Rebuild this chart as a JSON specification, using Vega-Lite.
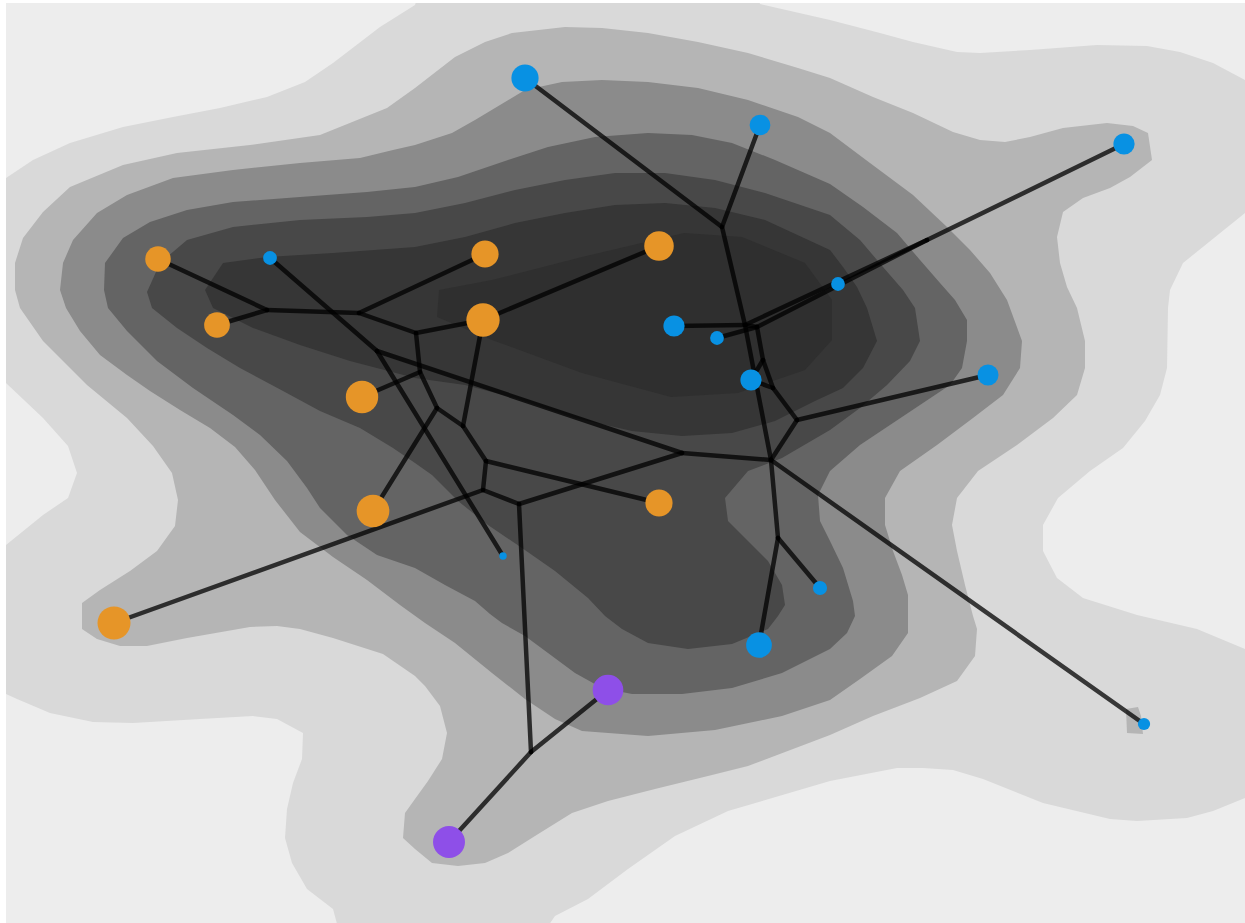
{
"$schema": "https://vega.github.io/schema/vega-lite/v6.json",
"width": 1239, "height": 920,
"autosize": {"type": "none"},
"padding": {"left": 6, "top": 3, "right": 0, "bottom": 0},
"background": "white",
"config": {"view": {"fill": "#ededed", "stroke": null}},
"datasets": {
"nodes": [
{"id":"O1","x":158,"y":259,"group":"I","n":65},
{"id":"O2","x":217,"y":325,"group":"I","n":66},
{"id":"O3","x":485,"y":254,"group":"I","n":74},
{"id":"O4","x":659,"y":246,"group":"I","n":87},
{"id":"O5","x":483,"y":320,"group":"I","n":111},
{"id":"O6","x":362,"y":397,"group":"I","n":105},
{"id":"O7","x":373,"y":511,"group":"I","n":107},
{"id":"O8","x":659,"y":503,"group":"I","n":74},
{"id":"O9","x":114,"y":623,"group":"I","n":109},
{"id":"B1","x":525,"y":78,"group":"II","n":74},
{"id":"B2","x":760,"y":125,"group":"II","n":43},
{"id":"B3","x":1124,"y":144,"group":"II","n":45},
{"id":"B4","x":270,"y":258,"group":"II","n":19},
{"id":"B5","x":838,"y":284,"group":"II","n":19},
{"id":"B6","x":674,"y":326,"group":"II","n":45},
{"id":"B7","x":717,"y":338,"group":"II","n":19},
{"id":"B8","x":751,"y":380,"group":"II","n":45},
{"id":"B9","x":988,"y":375,"group":"II","n":44},
{"id":"B10","x":503,"y":556,"group":"II","n":5.5},
{"id":"B11","x":820,"y":588,"group":"II","n":20},
{"id":"B12","x":759,"y":645,"group":"II","n":66},
{"id":"B13","x":1144,"y":724,"group":"II","n":15},
{"id":"P1","x":608,"y":690,"group":"III","n":94},
{"id":"P2","x":449,"y":842,"group":"III","n":102},
{"id":"N1","x":267,"y":310},
{"id":"N2","x":359,"y":313},
{"id":"N3","x":416,"y":333},
{"id":"N4","x":420,"y":372},
{"id":"N5","x":437,"y":408},
{"id":"N6","x":463,"y":426},
{"id":"N7","x":486,"y":461},
{"id":"N8","x":483,"y":490},
{"id":"N9","x":519,"y":504},
{"id":"N10","x":531,"y":752},
{"id":"Na","x":377,"y":351},
{"id":"N11","x":682,"y":453},
{"id":"N12","x":771,"y":460},
{"id":"N13","x":778,"y":538},
{"id":"N14","x":797,"y":420},
{"id":"N19","x":773,"y":388},
{"id":"N18","x":763,"y":360},
{"id":"N16","x":757,"y":327},
{"id":"N15","x":745,"y":325},
{"id":"N17","x":927,"y":240},
{"id":"Ntop","x":722,"y":227}
],
"edges": [
{"s":"O1","t":"N1"},{"s":"O2","t":"N1"},{"s":"N1","t":"N2"},{"s":"N2","t":"O3"},{"s":"N2","t":"N3"},
{"s":"N3","t":"O5"},{"s":"O5","t":"O4"},{"s":"N3","t":"N4"},{"s":"N4","t":"O6"},{"s":"N4","t":"N5"},
{"s":"N5","t":"O7"},{"s":"N5","t":"N6"},{"s":"N6","t":"O5"},{"s":"N6","t":"N7"},{"s":"N7","t":"O8"},
{"s":"N7","t":"N8"},{"s":"N8","t":"O9"},{"s":"N8","t":"N9"},{"s":"N9","t":"N11"},{"s":"N9","t":"N10"},
{"s":"N10","t":"P1"},{"s":"N10","t":"P2"},{"s":"B4","t":"Na"},{"s":"Na","t":"B10"},{"s":"Na","t":"N11"},
{"s":"N11","t":"N12"},{"s":"N12","t":"N13"},{"s":"N13","t":"B11"},{"s":"N13","t":"B12"},{"s":"N12","t":"B13"},
{"s":"N12","t":"N14"},{"s":"N14","t":"B9"},{"s":"N14","t":"N19"},{"s":"N19","t":"B8"},{"s":"N19","t":"N18"},
{"s":"N18","t":"B8"},{"s":"N18","t":"N16"},{"s":"N16","t":"N15"},{"s":"N15","t":"B6"},{"s":"N16","t":"B7"},
{"s":"N15","t":"N17"},{"s":"N16","t":"N17"},{"s":"N17","t":"B3"},{"s":"N15","t":"N12"},{"s":"N15","t":"Ntop"},
{"s":"Ntop","t":"B1"},{"s":"Ntop","t":"B2"}
],
"density": [
{"level":1,"pid":"a","x":-10,"y":178},{"level":1,"pid":"a","x":6,"y":178},{"level":1,"pid":"a","x":33,"y":160},{"level":1,"pid":"a","x":70,"y":143},{"level":1,"pid":"a","x":123,"y":127},{"level":1,"pid":"a","x":173,"y":117},{"level":1,"pid":"a","x":220,"y":108},{"level":1,"pid":"a","x":267,"y":97},{"level":1,"pid":"a","x":305,"y":82},{"level":1,"pid":"a","x":333,"y":63},{"level":1,"pid":"a","x":380,"y":27},{"level":1,"pid":"a","x":415,"y":5},{"level":1,"pid":"a","x":420,"y":-10},{"level":1,"pid":"a","x":755,"y":-10},{"level":1,"pid":"a","x":760,"y":4},{"level":1,"pid":"a","x":830,"y":20},{"level":1,"pid":"a","x":880,"y":33},{"level":1,"pid":"a","x":913,"y":42},{"level":1,"pid":"a","x":957,"y":52},{"level":1,"pid":"a","x":980,"y":53},{"level":1,"pid":"a","x":1030,"y":50},{"level":1,"pid":"a","x":1097,"y":45},{"level":1,"pid":"a","x":1147,"y":46},{"level":1,"pid":"a","x":1180,"y":52},{"level":1,"pid":"a","x":1213,"y":63},{"level":1,"pid":"a","x":1245,"y":80},{"level":1,"pid":"a","x":1260,"y":80},{"level":1,"pid":"a","x":1260,"y":213},{"level":1,"pid":"a","x":1245,"y":213},{"level":1,"pid":"a","x":1183,"y":263},{"level":1,"pid":"a","x":1170,"y":290},{"level":1,"pid":"a","x":1168,"y":308},{"level":1,"pid":"a","x":1167,"y":368},{"level":1,"pid":"a","x":1160,"y":395},{"level":1,"pid":"a","x":1145,"y":421},{"level":1,"pid":"a","x":1123,"y":448},{"level":1,"pid":"a","x":1090,"y":471},{"level":1,"pid":"a","x":1058,"y":498},{"level":1,"pid":"a","x":1043,"y":525},{"level":1,"pid":"a","x":1043,"y":551},{"level":1,"pid":"a","x":1057,"y":578},{"level":1,"pid":"a","x":1083,"y":598},{"level":1,"pid":"a","x":1137,"y":615},{"level":1,"pid":"a","x":1197,"y":629},{"level":1,"pid":"a","x":1245,"y":649},{"level":1,"pid":"a","x":1260,"y":649},{"level":1,"pid":"a","x":1260,"y":798},{"level":1,"pid":"a","x":1245,"y":798},{"level":1,"pid":"a","x":1213,"y":811},{"level":1,"pid":"a","x":1187,"y":818},{"level":1,"pid":"a","x":1137,"y":821},{"level":1,"pid":"a","x":1110,"y":819},{"level":1,"pid":"a","x":1043,"y":803},{"level":1,"pid":"a","x":983,"y":779},{"level":1,"pid":"a","x":953,"y":770},{"level":1,"pid":"a","x":923,"y":768},{"level":1,"pid":"a","x":897,"y":768},{"level":1,"pid":"a","x":830,"y":781},{"level":1,"pid":"a","x":728,"y":811},{"level":1,"pid":"a","x":675,"y":836},{"level":1,"pid":"a","x":628,"y":869},{"level":1,"pid":"a","x":588,"y":899},{"level":1,"pid":"a","x":555,"y":916},{"level":1,"pid":"a","x":542,"y":935},{"level":1,"pid":"a","x":340,"y":935},{"level":1,"pid":"a","x":333,"y":909},{"level":1,"pid":"a","x":307,"y":889},{"level":1,"pid":"a","x":292,"y":863},{"level":1,"pid":"a","x":285,"y":838},{"level":1,"pid":"a","x":287,"y":809},{"level":1,"pid":"a","x":293,"y":783},{"level":1,"pid":"a","x":302,"y":759},{"level":1,"pid":"a","x":303,"y":733},{"level":1,"pid":"a","x":277,"y":719},{"level":1,"pid":"a","x":253,"y":716},{"level":1,"pid":"a","x":200,"y":719},{"level":1,"pid":"a","x":133,"y":723},{"level":1,"pid":"a","x":93,"y":722},{"level":1,"pid":"a","x":50,"y":713},{"level":1,"pid":"a","x":17,"y":699},{"level":1,"pid":"a","x":6,"y":694},{"level":1,"pid":"a","x":-10,"y":694},{"level":1,"pid":"a","x":-10,"y":545},{"level":1,"pid":"a","x":6,"y":545},{"level":1,"pid":"a","x":43,"y":515},{"level":1,"pid":"a","x":68,"y":498},{"level":1,"pid":"a","x":77,"y":473},{"level":1,"pid":"a","x":68,"y":446},{"level":1,"pid":"a","x":43,"y":418},{"level":1,"pid":"a","x":6,"y":383},{"level":1,"pid":"a","x":-10,"y":383},
{"level":2,"pid":"b","x":15,"y":263},{"level":2,"pid":"b","x":23,"y":238},{"level":2,"pid":"b","x":43,"y":212},{"level":2,"pid":"b","x":70,"y":187},{"level":2,"pid":"b","x":123,"y":165},{"level":2,"pid":"b","x":177,"y":153},{"level":2,"pid":"b","x":250,"y":145},{"level":2,"pid":"b","x":320,"y":135},{"level":2,"pid":"b","x":387,"y":108},{"level":2,"pid":"b","x":415,"y":88},{"level":2,"pid":"b","x":455,"y":57},{"level":2,"pid":"b","x":485,"y":42},{"level":2,"pid":"b","x":512,"y":33},{"level":2,"pid":"b","x":565,"y":27},{"level":2,"pid":"b","x":602,"y":28},{"level":2,"pid":"b","x":648,"y":33},{"level":2,"pid":"b","x":698,"y":42},{"level":2,"pid":"b","x":748,"y":53},{"level":2,"pid":"b","x":798,"y":68},{"level":2,"pid":"b","x":830,"y":78},{"level":2,"pid":"b","x":873,"y":97},{"level":2,"pid":"b","x":913,"y":113},{"level":2,"pid":"b","x":953,"y":132},{"level":2,"pid":"b","x":980,"y":140},{"level":2,"pid":"b","x":1005,"y":142},{"level":2,"pid":"b","x":1030,"y":137},{"level":2,"pid":"b","x":1063,"y":128},{"level":2,"pid":"b","x":1107,"y":123},{"level":2,"pid":"b","x":1133,"y":126},{"level":2,"pid":"b","x":1148,"y":133},{"level":2,"pid":"b","x":1152,"y":160},{"level":2,"pid":"b","x":1130,"y":177},{"level":2,"pid":"b","x":1110,"y":188},{"level":2,"pid":"b","x":1083,"y":198},{"level":2,"pid":"b","x":1063,"y":212},{"level":2,"pid":"b","x":1057,"y":237},{"level":2,"pid":"b","x":1060,"y":263},{"level":2,"pid":"b","x":1067,"y":287},{"level":2,"pid":"b","x":1077,"y":308},{"level":2,"pid":"b","x":1085,"y":341},{"level":2,"pid":"b","x":1085,"y":368},{"level":2,"pid":"b","x":1077,"y":395},{"level":2,"pid":"b","x":1053,"y":418},{"level":2,"pid":"b","x":1017,"y":445},{"level":2,"pid":"b","x":978,"y":471},{"level":2,"pid":"b","x":957,"y":498},{"level":2,"pid":"b","x":952,"y":525},{"level":2,"pid":"b","x":957,"y":551},{"level":2,"pid":"b","x":965,"y":585},{"level":2,"pid":"b","x":973,"y":616},{"level":2,"pid":"b","x":977,"y":629},{"level":2,"pid":"b","x":975,"y":656},{"level":2,"pid":"b","x":957,"y":681},{"level":2,"pid":"b","x":920,"y":698},{"level":2,"pid":"b","x":873,"y":716},{"level":2,"pid":"b","x":830,"y":735},{"level":2,"pid":"b","x":748,"y":766},{"level":2,"pid":"b","x":708,"y":776},{"level":2,"pid":"b","x":655,"y":789},{"level":2,"pid":"b","x":608,"y":801},{"level":2,"pid":"b","x":572,"y":813},{"level":2,"pid":"b","x":535,"y":836},{"level":2,"pid":"b","x":508,"y":853},{"level":2,"pid":"b","x":485,"y":863},{"level":2,"pid":"b","x":458,"y":866},{"level":2,"pid":"b","x":432,"y":863},{"level":2,"pid":"b","x":415,"y":849},{"level":2,"pid":"b","x":403,"y":838},{"level":2,"pid":"b","x":405,"y":813},{"level":2,"pid":"b","x":415,"y":799},{"level":2,"pid":"b","x":428,"y":781},{"level":2,"pid":"b","x":442,"y":759},{"level":2,"pid":"b","x":447,"y":733},{"level":2,"pid":"b","x":440,"y":706},{"level":2,"pid":"b","x":425,"y":686},{"level":2,"pid":"b","x":415,"y":676},{"level":2,"pid":"b","x":383,"y":654},{"level":2,"pid":"b","x":333,"y":638},{"level":2,"pid":"b","x":300,"y":629},{"level":2,"pid":"b","x":277,"y":626},{"level":2,"pid":"b","x":250,"y":627},{"level":2,"pid":"b","x":187,"y":638},{"level":2,"pid":"b","x":147,"y":646},{"level":2,"pid":"b","x":120,"y":646},{"level":2,"pid":"b","x":97,"y":639},{"level":2,"pid":"b","x":82,"y":629},{"level":2,"pid":"b","x":82,"y":603},{"level":2,"pid":"b","x":100,"y":590},{"level":2,"pid":"b","x":130,"y":571},{"level":2,"pid":"b","x":157,"y":551},{"level":2,"pid":"b","x":175,"y":526},{"level":2,"pid":"b","x":178,"y":500},{"level":2,"pid":"b","x":172,"y":473},{"level":2,"pid":"b","x":153,"y":446},{"level":2,"pid":"b","x":127,"y":418},{"level":2,"pid":"b","x":87,"y":385},{"level":2,"pid":"b","x":43,"y":341},{"level":2,"pid":"b","x":20,"y":308},{"level":2,"pid":"b","x":15,"y":290},
{"level":2,"pid":"c","x":1126,"y":709},{"level":2,"pid":"c","x":1138,"y":707},{"level":2,"pid":"c","x":1141,"y":716},{"level":2,"pid":"c","x":1143,"y":734},{"level":2,"pid":"c","x":1127,"y":733},
{"level":3,"pid":"d","x":60,"y":290},{"level":3,"pid":"d","x":63,"y":263},{"level":3,"pid":"d","x":73,"y":240},{"level":3,"pid":"d","x":97,"y":213},{"level":3,"pid":"d","x":127,"y":195},{"level":3,"pid":"d","x":173,"y":178},{"level":3,"pid":"d","x":233,"y":170},{"level":3,"pid":"d","x":300,"y":163},{"level":3,"pid":"d","x":360,"y":158},{"level":3,"pid":"d","x":393,"y":150},{"level":3,"pid":"d","x":415,"y":145},{"level":3,"pid":"d","x":452,"y":133},{"level":3,"pid":"d","x":475,"y":120},{"level":3,"pid":"d","x":505,"y":102},{"level":3,"pid":"d","x":525,"y":90},{"level":3,"pid":"d","x":562,"y":82},{"level":3,"pid":"d","x":602,"y":80},{"level":3,"pid":"d","x":648,"y":82},{"level":3,"pid":"d","x":698,"y":88},{"level":3,"pid":"d","x":748,"y":100},{"level":3,"pid":"d","x":798,"y":117},{"level":3,"pid":"d","x":830,"y":133},{"level":3,"pid":"d","x":870,"y":163},{"level":3,"pid":"d","x":913,"y":195},{"level":3,"pid":"d","x":947,"y":227},{"level":3,"pid":"d","x":970,"y":250},{"level":3,"pid":"d","x":990,"y":273},{"level":3,"pid":"d","x":1007,"y":300},{"level":3,"pid":"d","x":1022,"y":341},{"level":3,"pid":"d","x":1020,"y":368},{"level":3,"pid":"d","x":1003,"y":395},{"level":3,"pid":"d","x":973,"y":418},{"level":3,"pid":"d","x":937,"y":445},{"level":3,"pid":"d","x":900,"y":471},{"level":3,"pid":"d","x":885,"y":498},{"level":3,"pid":"d","x":885,"y":525},{"level":3,"pid":"d","x":893,"y":551},{"level":3,"pid":"d","x":902,"y":575},{"level":3,"pid":"d","x":908,"y":595},{"level":3,"pid":"d","x":908,"y":633},{"level":3,"pid":"d","x":892,"y":656},{"level":3,"pid":"d","x":860,"y":679},{"level":3,"pid":"d","x":830,"y":700},{"level":3,"pid":"d","x":782,"y":716},{"level":3,"pid":"d","x":715,"y":730},{"level":3,"pid":"d","x":648,"y":736},{"level":3,"pid":"d","x":582,"y":731},{"level":3,"pid":"d","x":555,"y":719},{"level":3,"pid":"d","x":525,"y":699},{"level":3,"pid":"d","x":492,"y":673},{"level":3,"pid":"d","x":455,"y":643},{"level":3,"pid":"d","x":425,"y":623},{"level":3,"pid":"d","x":400,"y":605},{"level":3,"pid":"d","x":367,"y":580},{"level":3,"pid":"d","x":333,"y":557},{"level":3,"pid":"d","x":300,"y":532},{"level":3,"pid":"d","x":275,"y":500},{"level":3,"pid":"d","x":255,"y":470},{"level":3,"pid":"d","x":235,"y":447},{"level":3,"pid":"d","x":210,"y":428},{"level":3,"pid":"d","x":180,"y":410},{"level":3,"pid":"d","x":150,"y":391},{"level":3,"pid":"d","x":127,"y":375},{"level":3,"pid":"d","x":100,"y":355},{"level":3,"pid":"d","x":80,"y":331},{"level":3,"pid":"d","x":66,"y":308},
{"level":4,"pid":"e","x":104,"y":290},{"level":4,"pid":"e","x":105,"y":263},{"level":4,"pid":"e","x":123,"y":238},{"level":4,"pid":"e","x":150,"y":222},{"level":4,"pid":"e","x":187,"y":210},{"level":4,"pid":"e","x":233,"y":202},{"level":4,"pid":"e","x":300,"y":197},{"level":4,"pid":"e","x":367,"y":192},{"level":4,"pid":"e","x":415,"y":187},{"level":4,"pid":"e","x":458,"y":177},{"level":4,"pid":"e","x":508,"y":160},{"level":4,"pid":"e","x":548,"y":147},{"level":4,"pid":"e","x":595,"y":137},{"level":4,"pid":"e","x":648,"y":133},{"level":4,"pid":"e","x":692,"y":135},{"level":4,"pid":"e","x":732,"y":143},{"level":4,"pid":"e","x":775,"y":160},{"level":4,"pid":"e","x":830,"y":184},{"level":4,"pid":"e","x":863,"y":207},{"level":4,"pid":"e","x":897,"y":233},{"level":4,"pid":"e","x":920,"y":260},{"level":4,"pid":"e","x":940,"y":283},{"level":4,"pid":"e","x":955,"y":300},{"level":4,"pid":"e","x":967,"y":320},{"level":4,"pid":"e","x":967,"y":341},{"level":4,"pid":"e","x":962,"y":368},{"level":4,"pid":"e","x":950,"y":385},{"level":4,"pid":"e","x":920,"y":405},{"level":4,"pid":"e","x":890,"y":425},{"level":4,"pid":"e","x":860,"y":445},{"level":4,"pid":"e","x":830,"y":471},{"level":4,"pid":"e","x":818,"y":495},{"level":4,"pid":"e","x":820,"y":521},{"level":4,"pid":"e","x":830,"y":541},{"level":4,"pid":"e","x":843,"y":568},{"level":4,"pid":"e","x":853,"y":601},{"level":4,"pid":"e","x":855,"y":616},{"level":4,"pid":"e","x":847,"y":633},{"level":4,"pid":"e","x":830,"y":649},{"level":4,"pid":"e","x":782,"y":673},{"level":4,"pid":"e","x":732,"y":688},{"level":4,"pid":"e","x":682,"y":694},{"level":4,"pid":"e","x":632,"y":694},{"level":4,"pid":"e","x":602,"y":688},{"level":4,"pid":"e","x":575,"y":673},{"level":4,"pid":"e","x":548,"y":653},{"level":4,"pid":"e","x":525,"y":636},{"level":4,"pid":"e","x":502,"y":623},{"level":4,"pid":"e","x":490,"y":614},{"level":4,"pid":"e","x":475,"y":601},{"level":4,"pid":"e","x":445,"y":585},{"level":4,"pid":"e","x":415,"y":568},{"level":4,"pid":"e","x":377,"y":555},{"level":4,"pid":"e","x":347,"y":535},{"level":4,"pid":"e","x":320,"y":508},{"level":4,"pid":"e","x":307,"y":488},{"level":4,"pid":"e","x":287,"y":461},{"level":4,"pid":"e","x":260,"y":435},{"level":4,"pid":"e","x":233,"y":415},{"level":4,"pid":"e","x":193,"y":388},{"level":4,"pid":"e","x":157,"y":361},{"level":4,"pid":"e","x":127,"y":331},{"level":4,"pid":"e","x":108,"y":308},
{"level":5,"pid":"f","x":147,"y":292},{"level":5,"pid":"f","x":160,"y":263},{"level":5,"pid":"f","x":187,"y":240},{"level":5,"pid":"f","x":233,"y":227},{"level":5,"pid":"f","x":300,"y":220},{"level":5,"pid":"f","x":367,"y":217},{"level":5,"pid":"f","x":415,"y":213},{"level":5,"pid":"f","x":465,"y":203},{"level":5,"pid":"f","x":515,"y":190},{"level":5,"pid":"f","x":565,"y":180},{"level":5,"pid":"f","x":615,"y":173},{"level":5,"pid":"f","x":665,"y":173},{"level":5,"pid":"f","x":715,"y":180},{"level":5,"pid":"f","x":765,"y":193},{"level":5,"pid":"f","x":830,"y":215},{"level":5,"pid":"f","x":860,"y":240},{"level":5,"pid":"f","x":883,"y":267},{"level":5,"pid":"f","x":903,"y":290},{"level":5,"pid":"f","x":915,"y":308},{"level":5,"pid":"f","x":920,"y":341},{"level":5,"pid":"f","x":910,"y":361},{"level":5,"pid":"f","x":887,"y":385},{"level":5,"pid":"f","x":860,"y":408},{"level":5,"pid":"f","x":830,"y":430},{"level":5,"pid":"f","x":782,"y":458},{"level":5,"pid":"f","x":748,"y":471},{"level":5,"pid":"f","x":725,"y":498},{"level":5,"pid":"f","x":728,"y":521},{"level":5,"pid":"f","x":748,"y":541},{"level":5,"pid":"f","x":768,"y":561},{"level":5,"pid":"f","x":782,"y":585},{"level":5,"pid":"f","x":785,"y":605},{"level":5,"pid":"f","x":778,"y":616},{"level":5,"pid":"f","x":768,"y":629},{"level":5,"pid":"f","x":732,"y":644},{"level":5,"pid":"f","x":688,"y":649},{"level":5,"pid":"f","x":648,"y":643},{"level":5,"pid":"f","x":622,"y":629},{"level":5,"pid":"f","x":605,"y":616},{"level":5,"pid":"f","x":588,"y":598},{"level":5,"pid":"f","x":555,"y":571},{"level":5,"pid":"f","x":522,"y":548},{"level":5,"pid":"f","x":488,"y":525},{"level":5,"pid":"f","x":458,"y":501},{"level":5,"pid":"f","x":432,"y":475},{"level":5,"pid":"f","x":415,"y":463},{"level":5,"pid":"f","x":393,"y":448},{"level":5,"pid":"f","x":360,"y":428},{"level":5,"pid":"f","x":320,"y":411},{"level":5,"pid":"f","x":283,"y":391},{"level":5,"pid":"f","x":240,"y":368},{"level":5,"pid":"f","x":207,"y":348},{"level":5,"pid":"f","x":177,"y":328},{"level":5,"pid":"f","x":152,"y":308},
{"level":6,"pid":"g","x":205,"y":290},{"level":6,"pid":"g","x":223,"y":263},{"level":6,"pid":"g","x":267,"y":257},{"level":6,"pid":"g","x":333,"y":253},{"level":6,"pid":"g","x":415,"y":247},{"level":6,"pid":"g","x":465,"y":237},{"level":6,"pid":"g","x":515,"y":223},{"level":6,"pid":"g","x":565,"y":213},{"level":6,"pid":"g","x":615,"y":205},{"level":6,"pid":"g","x":665,"y":203},{"level":6,"pid":"g","x":715,"y":208},{"level":6,"pid":"g","x":765,"y":220},{"level":6,"pid":"g","x":830,"y":250},{"level":6,"pid":"g","x":843,"y":267},{"level":6,"pid":"g","x":857,"y":287},{"level":6,"pid":"g","x":867,"y":308},{"level":6,"pid":"g","x":877,"y":341},{"level":6,"pid":"g","x":863,"y":368},{"level":6,"pid":"g","x":843,"y":388},{"level":6,"pid":"g","x":815,"y":401},{"level":6,"pid":"g","x":775,"y":421},{"level":6,"pid":"g","x":732,"y":433},{"level":6,"pid":"g","x":682,"y":436},{"level":6,"pid":"g","x":632,"y":431},{"level":6,"pid":"g","x":575,"y":418},{"level":6,"pid":"g","x":515,"y":398},{"level":6,"pid":"g","x":465,"y":385},{"level":6,"pid":"g","x":415,"y":378},{"level":6,"pid":"g","x":350,"y":361},{"level":6,"pid":"g","x":300,"y":345},{"level":6,"pid":"g","x":253,"y":328},{"level":6,"pid":"g","x":213,"y":308},
{"level":7,"pid":"h","x":437,"y":317},{"level":7,"pid":"h","x":439,"y":290},{"level":7,"pid":"h","x":492,"y":280},{"level":7,"pid":"h","x":582,"y":257},{"level":7,"pid":"h","x":684,"y":233},{"level":7,"pid":"h","x":742,"y":237},{"level":7,"pid":"h","x":805,"y":263},{"level":7,"pid":"h","x":832,"y":300},{"level":7,"pid":"h","x":832,"y":340},{"level":7,"pid":"h","x":805,"y":370},{"level":7,"pid":"h","x":738,"y":393},{"level":7,"pid":"h","x":671,"y":397},{"level":7,"pid":"h","x":582,"y":373},{"level":7,"pid":"h","x":492,"y":340}
]
},
"layer": [
{
"data": {"name": "density"},
"mark": {"type": "line", "filled": true, "clip": true, "strokeWidth": 0},
"encoding": {
"x": {"field": "x", "type": "quantitative", "scale": {"domain": [6, 1245], "nice": false, "zero": false}, "axis": null},
"y": {"field": "y", "type": "quantitative", "scale": {"domain": [3, 923], "nice": false, "zero": false, "reverse": true}, "axis": null},
"color": {"field": "level", "type": "ordinal", "scale": {"domain": [1, 2, 3, 4, 5, 6, 7], "range": ["#d9d9d9", "#b5b5b5", "#8b8b8b", "#646464", "#484848", "#363636", "#2f2f2f"]}, "legend": null},
"detail": {"field": "pid"},
"order": {"value": null}
}
},
{
"data": {"name": "edges"},
"transform": [
{"lookup": "s", "from": {"data": {"name": "nodes"}, "key": "id", "fields": ["x", "y"]}, "as": ["sx", "sy"]},
{"lookup": "t", "from": {"data": {"name": "nodes"}, "key": "id", "fields": ["x", "y"]}, "as": ["tx", "ty"]}
],
"mark": {"type": "rule", "strokeWidth": 4.5, "color": "black", "opacity": 0.75, "strokeCap": "round", "clip": true},
"encoding": {
"x": {"field": "sx", "type": "quantitative", "scale": {"domain": [6, 1245], "nice": false, "zero": false}, "axis": null},
"y": {"field": "sy", "type": "quantitative", "scale": {"domain": [3, 923], "nice": false, "zero": false, "reverse": true}, "axis": null},
"x2": {"field": "tx"},
"y2": {"field": "ty"}
}
},
{
"data": {"name": "nodes"},
"transform": [{"filter": "isValid(datum.group)"}],
"mark": {"type": "circle", "opacity": 1, "strokeWidth": 0},
"encoding": {
"x": {"field": "x", "type": "quantitative", "scale": {"domain": [6, 1245], "nice": false, "zero": false}, "axis": null},
"y": {"field": "y", "type": "quantitative", "scale": {"domain": [3, 923], "nice": false, "zero": false, "reverse": true}, "axis": null},
"color": {"field": "group", "type": "nominal", "scale": {"domain": ["I", "II", "III"], "range": ["#e69528", "#0891e3", "#8e4fe8"]}, "legend": null},
"size": {"field": "n", "type": "quantitative", "scale": {"domain": [0, 100], "range": [0, 1000], "zero": true}, "legend": null}
}
}
],
"resolve": {"scale": {"color": "independent"}}
}
